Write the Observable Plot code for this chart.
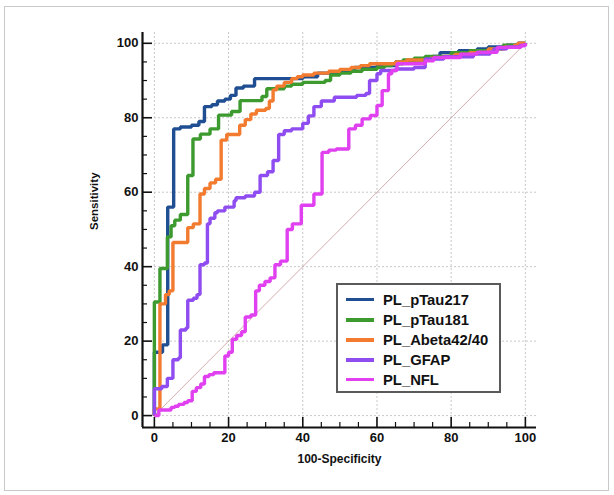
<!DOCTYPE html>
<html>
<head>
<meta charset="utf-8">
<script src="https://cdn.jsdelivr.net/npm/d3@7"></script>
<script src="https://cdn.jsdelivr.net/npm/@observablehq/plot@0.6"></script>
<style>
  body { margin: 0; background: #fff; font-family: "Liberation Sans", Arial, sans-serif; }
  #wrap { position: relative; width: 614px; height: 495px; }
  #border { position: absolute; left: 4px; top: 6px; width: 605px; height: 485px; border: 1.5px solid #c9c9c9; box-sizing: border-box; }
  #legend { position: absolute; left: 336px; top: 283px; width: 165px; height: 110px; border: 2px solid #5a5a5a; box-sizing: border-box; background: #fff; }
  .row { position: absolute; left: 8px; height: 20px; display: flex; align-items: center; }
  .sw { width: 28px; height: 3.6px; margin-right: 9px; }
  .lb { font-weight: bold; font-size: 14.8px; color: #111; }
</style>
</head>
<body>
<div id="wrap">
  <div id="chart"></div>
  <div id="border"></div>
  <div id="legend"></div>
</div>
<script>
// ---- data ----
const seriesNames = ["PL_pTau217", "PL_pTau181", "PL_Abeta42/40", "PL_GFAP", "PL_NFL"];
const seriesColors = ["#1f4f92", "#3c9a2f", "#f27b30", "#8f4cf0", "#e040f0"];

// step points (100-Specificity, Sensitivity)
const pTau217X = [0,2.2,3.6,5.2,7,10,12,13.5,15.5,17,19,20.5,22,24,27,40,44,50,54,60,65,70,75,77,82,87,90,95,98,100];
const pTau217Y = [0,17,19,56,77,77.5,78,79,83,83.5,84.5,85,86,88,88.5,90.5,91,92,92.5,93.5,94,95,95.5,96.5,97.5,98,98.5,99,99.5,100];

const pTau181X = [0,1.5,3.5,4.5,5.5,7,9,10.4,12.4,15,17.3,20.8,23.1,29,30.3,35,37,40,46,47.5,50,53,56,60,62,64,67,70,73,80,85,90,94,100,100];
const pTau181Y = [0,30.5,39.5,48,51,52.5,54,64.5,74.3,75.6,77,80.7,81.7,84.6,85.7,87.8,88.5,89,89.5,90,91.5,92,92.5,93,93.5,94,94.5,95.5,96,96.5,97.5,98,98.5,99.5,100];

const abetaX = [0,1.5,3,4,5,9,10.5,12.3,13.5,15,16.5,18,19.5,23,24.5,26,27.5,30,31,32,33,35,37,38.5,40,43,47,50,53,55.5,58,65,68,74.5,78,81,85,90,94.5,97,98,100];
const abetaY = [0,1.8,30,32.5,33.5,46.5,50.5,51.5,59.5,61,62.5,63.5,74,75.5,78,79.5,81,82,82.5,84.5,87.5,88.5,89.5,90.5,91,91.5,92,92.5,93,93.5,94,94.5,95,95.5,96,96.5,97,97.5,98.5,99,99.5,100];

const gfapX = [0,2,3.5,5,6.5,7,8.5,9,10.5,11.5,12.3,13.5,14.3,15,16.3,17,19,21.5,22,24.5,27,28.5,30.5,32,33.5,35,37,40,41.5,43,45,48.5,54.5,57,58,60,61,65,70,73,78,86,90.5,91.5,95,98.5,100,100];
const gfapY = [0,7.2,7.8,10,15,15.5,23,23.5,31,31.5,32.5,40.5,41,51.5,53,54.5,55,56,57.7,58.5,59,60,64.5,65.5,68.5,75.5,76.5,77,78.5,80.5,83,84.5,85.5,86,86.5,90,91.8,92.7,93.1,93.5,95.8,96.4,97.1,97.6,98.5,99,99.4,100];

const nflX = [0,1.2,4.5,5.5,6.5,8,9,10.2,11.3,12.5,13.5,14.7,16,19,20,21,22.2,23.5,24.5,26,27.3,28.3,29.8,31.2,32.5,34,35.8,37.2,39.6,43,45.2,47,49,52.4,54.2,56,58.2,60,61.4,63.1,64,65.4,73,75.3,82.5,87,92.4,98.8,100,100];
const nflY = [0,0,1.5,2.2,2.5,3,3.5,4,6.5,7.5,8.5,10.5,11,11.5,16,17,20.5,21.5,22.5,26.5,27,33.5,35,36,37,40.5,41.5,50,51.5,56.5,59.5,70.7,71.3,71.6,77,78,79.7,80.6,83.3,87.3,91.8,92.7,94.5,95.3,96.2,97.1,97.6,98.9,99.4,100];

const seriesX = [pTau217X, pTau181X, abetaX, gfapX, nflX];
const seriesY = [pTau217Y, pTau181Y, abetaY, gfapY, nflY];

const diagX = [0, 100];
const diagY = [0, 100];

const majorTicks = [0, 20, 40, 60, 80, 100];
const minorTicks = d3.range(0, 101, 5).filter(v => v % 20 !== 0);

const xTitle = "100-Specificity";
const yTitle = "Sensitivity";

// ---- build tables ----
const table = [];
seriesNames.forEach((name, i) => {
  seriesX[i].forEach((xv, j) => table.push({series: name, x: xv, y: seriesY[i][j]}));
});
const diag = diagX.map((xv, j) => ({x: xv, y: diagY[j]}));

const W = 614, H = 495, mL = 142, mR = 78, mT = 32, mB = 68;
const plotW = W - mL - mR, plotH = H - mT - mB;
const xDomain = [-3.2, 103];
const yDomain = [-3.2, 102.9];
const font = "Liberation Sans, Arial, sans-serif";

const chart = Plot.plot({
  width: W, height: H,
  marginLeft: mL, marginRight: mR, marginTop: mT, marginBottom: mB,
  style: {fontFamily: font, background: "transparent", overflow: "visible"},
  x: {domain: xDomain, axis: null},
  y: {domain: yDomain, axis: null},
  color: {domain: seriesNames, range: seriesColors},
  marks: [
    Plot.ruleX(majorTicks, {x: d => d, stroke: "#c8c8c8", strokeDasharray: "2,2", strokeWidth: 1}),
    Plot.ruleY(majorTicks, {y: d => d, stroke: "#c8c8c8", strokeDasharray: "2,2", strokeWidth: 1}),
    Plot.line(diag, {x: "x", y: "y", stroke: "#cfa3a3", strokeWidth: 0.9}),
    Plot.line(table, {x: "x", y: "y", z: "series", stroke: "series", curve: "step-before",
      strokeWidth: 3.4, strokeLinejoin: "miter", strokeLinecap: "butt"}),
    // axis lines
    Plot.ruleX([xDomain[0]], {stroke: "#111", strokeWidth: 2.2}),
    Plot.ruleY([yDomain[0]], {stroke: "#111", strokeWidth: 2.2}),
    // inward ticks
    Plot.ruleX(minorTicks, {x: d => d, insetTop: plotH - 5, stroke: "#111", strokeWidth: 1.2}),
    Plot.ruleX(majorTicks, {x: d => d, insetTop: plotH - 10, stroke: "#111", strokeWidth: 1.6}),
    Plot.ruleY(minorTicks, {y: d => d, insetRight: plotW - 5, stroke: "#111", strokeWidth: 1.2}),
    Plot.ruleY(majorTicks, {y: d => d, insetRight: plotW - 10, stroke: "#111", strokeWidth: 1.6}),
    // tick labels
    Plot.text(majorTicks, {x: d => d, text: d => String(d), frameAnchor: "bottom", dy: 14,
      fontSize: 13, fontWeight: "bold", fill: "#111"}),
    Plot.text(majorTicks, {y: d => d, text: d => String(d), frameAnchor: "left", dx: -4,
      textAnchor: "end", fontSize: 13, fontWeight: "bold", fill: "#111"}),
    // titles
    Plot.text([xTitle], {text: d => d, frameAnchor: "bottom", dy: 35, fontSize: 12, fontWeight: "bold", fill: "#111"}),
    Plot.text([yTitle], {text: d => d, frameAnchor: "left", dx: -48, rotate: -90, fontSize: 11.5, fontWeight: "bold", fill: "#111"})
  ]
});
document.getElementById("chart").appendChild(chart);

// legend
const legend = document.getElementById("legend");
const rowTops = [4.5, 25, 45, 65, 84.5];
seriesNames.forEach((name, i) => {
  const row = document.createElement("div");
  row.className = "row";
  row.style.top = rowTops[i] + "px";
  row.innerHTML = `<div class="sw" style="background:${seriesColors[i]}"></div><span class="lb">${name}</span>`;
  legend.appendChild(row);
});
</script>
</body>
</html>
